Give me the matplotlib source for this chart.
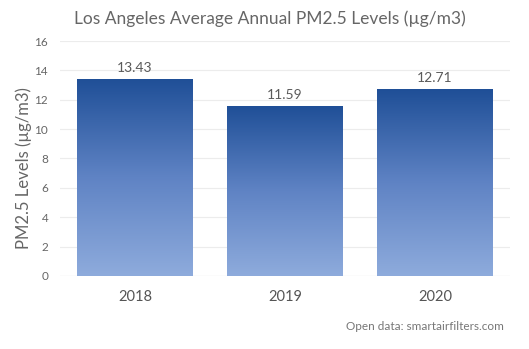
import matplotlib
matplotlib.use("Agg")
import matplotlib.pyplot as plt
import numpy as np
from matplotlib.colors import LinearSegmentedColormap

plt.rcParams['font.family'] = ['Lato', 'DejaVu Sans']

years = ["2018", "2019", "2020"]
pm25 = [13.43, 11.59, 12.71]
yticks = [0, 2, 4, 6, 8, 10, 12, 14, 16]

fig = plt.figure(figsize=(5.29, 3.49), dpi=100)
ax = fig.add_axes([0.1134, 0.2092, 0.8506, 0.6733])

ymax = 16
ax.set_xlim(-0.5, 2.5)
ax.set_ylim(0, ymax)

# light at the base, dark blue at each bar's top
cmap = LinearSegmentedColormap.from_list("blues", ["#8eabdc", "#5f83c4", "#1f4f97"])
grad = np.linspace(0, 1, 256).reshape(-1, 1)

width = 0.77
bars = ax.bar(range(len(years)), pm25, width=width, color="none", zorder=2)
for b, v in zip(bars, pm25):
    x0 = b.get_x()
    im = ax.imshow(grad, cmap=cmap, aspect="auto",
                   extent=(x0, x0 + width, 0, v), origin="lower",
                   vmin=0, vmax=1, zorder=2)
    im.set_clip_path(b)
    ax.text(b.get_x() + width / 2, v + 0.35, f"{v:.2f}", ha="center", va="bottom",
            fontsize=10, color="#5a5a5a")

ax.set_xticks(range(len(years)))
ax.set_xticklabels(years, fontsize=10.5, color="#555555")
ax.set_yticks(yticks)
ax.set_yticklabels([str(t) for t in yticks], fontsize=8.5, color="#666666")
ax.tick_params(axis="both", length=0)
ax.tick_params(axis="x", pad=10)
ax.tick_params(axis="y", pad=8.5)
ax.yaxis.grid(True, color="#ececec", linewidth=0.8, zorder=0)
ax.set_axisbelow(True)
for s in ax.spines.values():
    s.set_visible(False)
ax.axhline(0, color="#dddddd", linewidth=0.8, zorder=1)

ax.set_ylabel("PM2.5 Levels (µg/m3)", fontsize=12, color="#666666")
ax.yaxis.set_label_coords(-0.062, 0.46)

fig.text(0.51, 0.945, "Los Angeles Average Annual PM2.5 Levels (µg/m3)",
         ha="center", va="center", fontsize=12.5, color="#666666")
fig.text(0.952, 0.065, "Open data: smartairfilters.com", ha="right", va="center",
         fontsize=8.5, color="#777777")

fig.savefig("out.png", dpi=100)
